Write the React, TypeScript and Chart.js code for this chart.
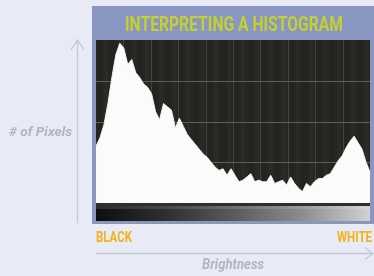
import React, { useEffect, useLayoutEffect, useRef, useState } from "react";
import { Chart, registerables } from "chart.js";

Chart.register(...registerables);

const TITLE = "INTERPRETING A HISTOGRAM";
const Y_TITLE = "# of Pixels";
const X_TITLE = "Brightness";
const X_END_LABELS = ["BLACK", "WHITE"];

// relative pixel count per brightness bin (0 = black ... 69 = white)
const pixelCounts = [
  35, 40, 48, 61, 77, 91, 98, 95, 85, 88,
  80, 77, 73, 71, 67, 56, 51, 61, 59, 57,
  46, 52, 47, 42, 39, 36, 33, 30, 28, 25,
  22, 20, 21, 17, 21, 17, 13, 14, 16, 18,
  13, 14, 13, 13, 17, 12, 13, 14, 11, 16,
  12, 9, 7, 12, 10, 13, 15, 15, 17, 18,
  22, 26, 29, 34, 38, 41, 37, 33, 25, 19,
];
const brightnessBins = pixelCounts.map((_, i) => String(i));

const Y_MAX = 100;
const GRID_COLS = 10;
const GRID_ROWS = 4;

const W = 374;
const H = 276;

const COLORS = {
  page: "#e8ebf5",
  panel: "#8a96c2",
  plot: "#262621",
  gridH: "#5f5f58",
  gridV: "#45453f",
  title: "#c4d02c",
  endLabel: "#f2b21c",
  axisText: "#aeb7c3",
  arrow: "#c5c9d1",
  fill: "#fbfbfb",
};

const FONT = "Roboto, 'DejaVu Sans', sans-serif";

const decorPlugin = {
  id: "decor",
  beforeDraw(chart: any) {
    const { ctx, chartArea } = chart;
    const { left, right, top, bottom } = chartArea;
    ctx.save();
    ctx.fillStyle = COLORS.page;
    ctx.fillRect(0, 0, W, H);
    ctx.fillStyle = COLORS.panel;
    ctx.fillRect(left - 4, 6, W - (left - 4), bottom + 21 - 6);
    ctx.fillStyle = COLORS.plot;
    ctx.fillRect(left, top, right - left, bottom - top);
    for (let i = 0; i < 40; i++) {
      const x = left + ((right - left) * (i + 0.5)) / 40;
      ctx.fillStyle = i % 2 ? "rgba(255,255,255,0.025)" : "rgba(0,0,0,0.06)";
      ctx.fillRect(x - 2, top, 4, bottom - top);
    }
    ctx.lineWidth = 1;
    ctx.strokeStyle = COLORS.gridV;
    for (let i = 1; i < GRID_COLS; i++) {
      const x = Math.round(left + ((right - left) * i) / GRID_COLS) + 0.5;
      ctx.beginPath();
      ctx.moveTo(x, top);
      ctx.lineTo(x, bottom);
      ctx.stroke();
    }
    ctx.strokeStyle = COLORS.gridH;
    for (let j = 1; j < GRID_ROWS; j++) {
      const y = Math.round(top + ((bottom - top) * j) / GRID_ROWS) + 0.5;
      ctx.beginPath();
      ctx.moveTo(left, y);
      ctx.lineTo(right, y);
      ctx.stroke();
    }
    // strip under the plot
    ctx.fillStyle = "#2e2e2e";
    ctx.fillRect(left, bottom, right - left, 3);
    const g = ctx.createLinearGradient(left, 0, right, 0);
    g.addColorStop(0, "#0e0e0e");
    g.addColorStop(0.25, "#2e2e2e");
    g.addColorStop(0.5, "#5a5a5a");
    g.addColorStop(0.75, "#8c8c8c");
    g.addColorStop(1, "#d2d2d2");
    ctx.fillStyle = g;
    ctx.fillRect(left, bottom + 3, right - left, 15);
    ctx.fillStyle = "rgba(255,255,255,0.12)";
    ctx.fillRect(left, bottom + 3, right - left, 3);
    // arrows
    ctx.strokeStyle = COLORS.arrow;
    ctx.lineWidth = 1.3;
    ctx.beginPath();
    ctx.moveTo(77.5, 223);
    ctx.lineTo(77.5, 40);
    ctx.moveTo(71, 50);
    ctx.lineTo(77.5, 40);
    ctx.lineTo(84, 50);
    ctx.stroke();
    ctx.beginPath();
    ctx.moveTo(left, 253.5);
    ctx.lineTo(W - 1, 253.5);
    ctx.moveTo(365, 247.5);
    ctx.lineTo(W - 1, 253.5);
    ctx.lineTo(365, 259.5);
    ctx.stroke();
    ctx.restore();
  },
};

type FitProps = {
  text: string;
  left: number;
  top: number;
  width: number;
  fontSize: number;
  color: string;
  italic?: boolean;
};

function FitText({ text, left, top, width, fontSize, color, italic }: FitProps) {
  const ref = useRef<HTMLSpanElement | null>(null);
  const [scale, setScale] = useState(1);
  useLayoutEffect(() => {
    if (ref.current) {
      const w = ref.current.getBoundingClientRect().width / scale;
      if (w > 0) setScale(width / w);
    }
  }, [text, width]);
  return (
    <span
      ref={ref}
      style={{
        position: "absolute",
        left,
        top,
        display: "inline-block",
        whiteSpace: "nowrap",
        fontFamily: FONT,
        fontWeight: 700,
        fontStyle: italic ? "italic" : "normal",
        fontSize,
        lineHeight: `${fontSize}px`,
        color,
        transform: `scaleX(${scale})`,
        transformOrigin: "0 0",
      }}
    >
      {text}
    </span>
  );
}

export default function App() {
  const ref = useRef<HTMLCanvasElement | null>(null);

  useEffect(() => {
    if (!ref.current) return;
    const chart = new Chart(ref.current, {
      type: "line",
      data: {
        labels: brightnessBins,
        datasets: [
          {
            data: pixelCounts,
            fill: "origin",
            backgroundColor: COLORS.fill,
            borderColor: "#f2f2f2",
            borderWidth: 1,
            pointRadius: 0,
            tension: 0,
          },
        ],
      },
      options: {
        animation: false,
        responsive: false,
        devicePixelRatio: 1,
        layout: { padding: { left: 96, top: 40, right: 4, bottom: 73 } },
        plugins: { legend: { display: false }, tooltip: { enabled: false }, title: { display: false } },
        scales: {
          x: { display: false },
          y: { display: false, min: 0, max: Y_MAX },
        },
      },
      plugins: [decorPlugin],
    });
    return () => chart.destroy();
  }, []);

  return (
    <div style={{ position: "fixed", left: 0, top: 0, width: W, height: H, overflow: "hidden", background: COLORS.page }}>
      <canvas ref={ref} width={W} height={H} style={{ position: "absolute", left: 0, top: 0, width: W, height: H }} />
      <FitText text={TITLE} left={125} top={14} width={218} fontSize={21} color={COLORS.title} />
      <FitText text={Y_TITLE} left={9} top={125} width={63} fontSize={13} color={COLORS.axisText} italic />
      <FitText text={X_END_LABELS[0]} left={96} top={230} width={36} fontSize={14} color={COLORS.endLabel} />
      <FitText text={X_END_LABELS[1]} left={337} top={230} width={35} fontSize={14} color={COLORS.endLabel} />
      <FitText text={X_TITLE} left={202} top={257} width={62} fontSize={15} color={COLORS.axisText} italic />
    </div>
  );
}
